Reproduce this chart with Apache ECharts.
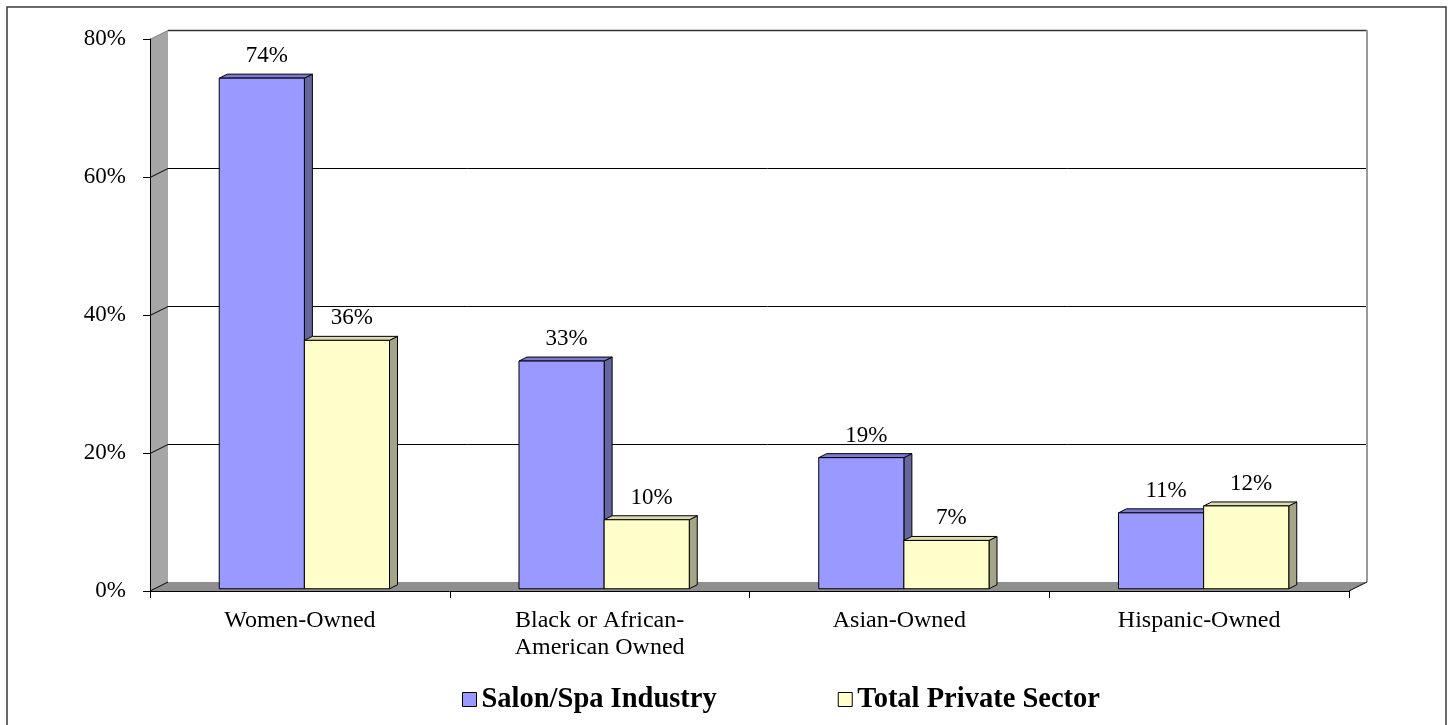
<!DOCTYPE html>
<html>
<head>
<meta charset="utf-8">
<script src="https://cdn.jsdelivr.net/npm/echarts@6/dist/echarts.min.js"></script>
<style>
  html, body { margin: 0; padding: 0; background: #fff; }
  #chart { width: 1452px; height: 725px; }
</style>
</head>
<body>
<div id="chart"></div>
<script>
const categories = ["Women-Owned", "Black or African-\nAmerican Owned", "Asian-Owned", "Hispanic-Owned"];
const salonSpa = [74, 33, 19, 11];
const privateSector = [36, 10, 7, 12];
const yTicks = [0, 20, 40, 60, 80];

const FONT = "'Liberation Serif', 'Times New Roman', serif";
const DEPTH = [18, -9];         // back wall offset
const BAR_FRONT = [4.5, -2.25]; // bar front face offset from axis plane
const BAR_DEPTH = [8, -4];
const BAR_RATIO = 0.284;

const chart = echarts.init(document.getElementById("chart"));

// walls, floor and gridlines
function renderFrame(params, api) {
  const cs = params.coordSys;
  const x0 = cs.x, x1 = cs.x + cs.width;
  const yb = cs.y + cs.height, yt = cs.y;
  const [dx, dy] = DEPTH;
  const children = [
    { type: "polygon", shape: { points: [[x0, yb], [x0, yt], [x0 + dx, yt + dy], [x0 + dx, yb + dy]] }, style: { fill: "#a6a6a6" } },
    { type: "polygon", shape: { points: [[x0, yb], [x1, yb], [x1 + dx, yb + dy], [x0 + dx, yb + dy]] }, style: { fill: "#8f8f8f" } },
  ];
  const maxTick = yTicks[yTicks.length - 1];
  yTicks.forEach((v) => {
    if (v === 0) return;
    const y = Math.round(api.coord([0, v])[1]) + 0.5;
    const isTop = v === maxTick;
    children.push({ type: "line", shape: { x1: x0, y1: y, x2: x0 + dx, y2: y + dy }, style: { stroke: isTop ? "#8a8a8a" : "#000", lineWidth: 1 } });
    children.push({ type: "line", shape: { x1: x0 + dx, y1: y + dy, x2: x1 + dx, y2: y + dy }, style: { stroke: isTop ? "#333" : "#000", lineWidth: isTop ? 1.5 : 1 } });
  });
  children.push({ type: "line", shape: { x1: x1 + dx, y1: yt + dy, x2: x1 + dx, y2: yb + dy }, style: { stroke: "#9a9a9a", lineWidth: 2 } });
  children.push({ type: "line", shape: { x1: x0, y1: yb, x2: x0 + dx, y2: yb + dy }, style: { stroke: "#000", lineWidth: 1 } });
  children.push({ type: "line", shape: { x1: x1, y1: yb, x2: x1 + dx, y2: yb + dy }, style: { stroke: "#000", lineWidth: 1 } });
  return { type: "group", children };
}

function renderBar(side, colors) {
  return function (params, api) {
    const idx = api.value(0), val = api.value(1);
    const base = api.coord([idx, 0]);
    const top = api.coord([idx, val]);
    const w = api.size([1, 0])[0] * BAR_RATIO;
    const cx = base[0] + BAR_FRONT[0];
    const xl = side === 0 ? cx - w : cx;
    const xr = xl + w;
    const yb = base[1] + BAR_FRONT[1];
    const yt = top[1] + BAR_FRONT[1];
    const [bx, by] = BAR_DEPTH;
    const edge = { stroke: "#000", lineWidth: 1 };
    return {
      type: "group",
      children: [
        { type: "polygon", shape: { points: [[xr, yb], [xr, yt], [xr + bx, yt + by], [xr + bx, yb + by]] }, style: Object.assign({ fill: colors.side }, edge) },
        { type: "polygon", shape: { points: [[xl, yt], [xr, yt], [xr + bx, yt + by], [xl + bx, yt + by]] }, style: Object.assign({ fill: colors.top }, edge) },
        { type: "rect", shape: { x: xl, y: yt, width: w, height: yb - yt }, style: Object.assign({ fill: colors.front }, edge) },
        {
          type: "text",
          x: (xl + xr) / 2 + 5,
          y: yt - 22,
          style: { text: val + "%", font: "23px " + FONT, fill: "#000", align: "center", verticalAlign: "middle" },
        },
      ],
    };
  };
}

const option = {
  animation: false,
  backgroundColor: "#fff",
  graphic: [
    { type: "rect", shape: { x: 7, y: 7, width: 1439, height: 740 }, style: { fill: null, stroke: "#3a3a3a", lineWidth: 1.5 }, z: -1 },
  ],
  legend: {
    data: ["Salon/Spa Industry", "Total Private Sector"],
    left: 462,
    top: 685,
    padding: 0,
    icon: "rect",
    itemWidth: 14,
    itemHeight: 14,
    itemGap: 121,
    itemStyle: { borderColor: "#000", borderWidth: 1 },
    textStyle: { fontFamily: FONT, fontSize: 28.5, fontWeight: "bold", color: "#000" },
  },
  grid: { left: 150, right: 103, top: 39, bottom: 134 },
  xAxis: {
    type: "category",
    data: categories,
    z: 5,
    axisLine: { lineStyle: { color: "#000", width: 1 } },
    axisTick: { show: true, length: 7, lineStyle: { color: "#000" } },
    axisLabel: { fontFamily: FONT, fontSize: 24, color: "#000", margin: 16, lineHeight: 27 },
  },
  yAxis: {
    type: "value",
    min: 0,
    max: 80,
    interval: 20,
    z: 5,
    axisLine: { show: true, lineStyle: { color: "#000", width: 1 } },
    axisTick: { show: true, length: 7, lineStyle: { color: "#000" } },
    splitLine: { show: false },
    axisLabel: { formatter: "{value}%", fontFamily: FONT, fontSize: 23, color: "#000", margin: 24 },
  },
  series: [
    {
      type: "custom",
      name: "frame",
      z: 1,
      silent: true,
      renderItem: renderFrame,
      data: [[0, 0]],
    },
    {
      type: "custom",
      name: "Salon/Spa Industry",
      z: 2,
      itemStyle: { color: "#9999ff" },
      renderItem: renderBar(0, { front: "#9999ff", side: "#66669f", top: "#7a7ad0" }),
      encode: { x: 0, y: 1 },
      data: salonSpa.map((v, i) => [i, v]),
    },
    {
      type: "custom",
      name: "Total Private Sector",
      z: 3,
      itemStyle: { color: "#ffffcc" },
      renderItem: renderBar(1, { front: "#ffffcc", side: "#a4a488", top: "#dcdcb0" }),
      encode: { x: 0, y: 1 },
      data: privateSector.map((v, i) => [i, v]),
    },
  ],
};

chart.setOption(option);
</script>
</body>
</html>
